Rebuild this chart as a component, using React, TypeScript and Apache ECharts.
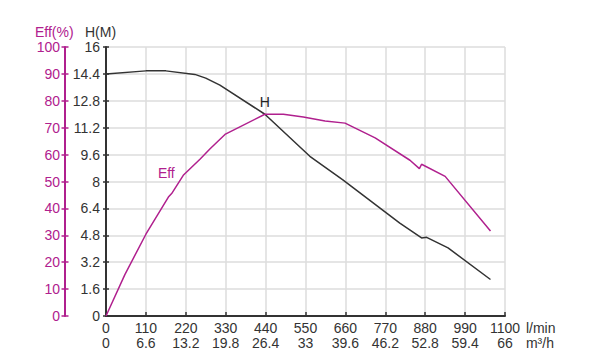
import React, { useEffect, useRef } from "react";
import * as echarts from "echarts";

// Tick labels
const flowTicks = ["0", "110", "220", "330", "440", "550", "660", "770", "880", "990", "1100"];
const m3hTicks = ["0", "6.6", "13.2", "19.8", "26.4", "33", "39.6", "46.2", "52.8", "59.4", "66"];
const hTicks = ["0", "1.6", "3.2", "4.8", "6.4", "8", "9.6", "11.2", "12.8", "14.4", "16"];
const effTicks = ["0", "10", "20", "30", "40", "50", "60", "70", "80", "90", "100"];

// H curve (flow l/min, head m)
const hFlow = [0, 110, 165, 245, 275, 314, 438, 562, 653, 810, 870, 884, 943, 1060];
const hHead = [14.4, 14.58, 14.58, 14.37, 14.15, 13.73, 12.0, 9.5, 8.1, 5.52, 4.64, 4.68, 4.05, 2.17];

// Eff curve (flow l/min, efficiency %)
const effFlow = [0, 52, 110, 172, 181, 213, 259, 287, 328, 438, 489, 544, 604, 659, 742, 838, 864, 870, 935, 1060];
const effVal = [0, 15.4, 30.4, 44.2, 45.5, 52.3, 58.3, 62.2, 67.5, 75.0, 75.0, 74.0, 72.5, 71.7, 66.2, 57.9, 54.8, 56.4, 51.9, 31.6];

// Curve name labels anchored at data points
const hLabelAt = [438, 12.0];
const effLabelAt = [213, 52.3];

const MAGENTA = "#b0208e";
const DARK = "#333333";
const FONT = "'Liberation Sans', Arial, sans-serif";

export default function App() {
  const ref = useRef<HTMLDivElement>(null);

  useEffect(() => {
    if (!ref.current) return;
    const chart = echarts.init(ref.current, undefined, { renderer: "svg" });

    const hData = hFlow.map((f, i) => [f, hHead[i]]);
    const effData = effFlow.map((f, i) => [f, effVal[i]]);

    const yCommon = {
      type: "value",
      position: "left",
      min: 0,
      max: 16,
      interval: 1.6,
    };

    chart.setOption({
      animation: false,
      textStyle: { fontFamily: FONT },
      grid: { left: 106, right: 85, top: 47, bottom: 44, containLabel: false },
      graphic: [
        {
          type: "text",
          left: 35,
          top: 25,
          style: { text: "Eff(%)", fill: MAGENTA, fontSize: 14, fontFamily: FONT },
        },
        {
          type: "text",
          left: 85,
          top: 25,
          style: { text: "H(M)", fill: DARK, fontSize: 14, fontFamily: FONT },
        },
      ],
      xAxis: {
        type: "value",
        min: 0,
        max: 1100,
        interval: 110,
        name: "l/min\nm³/h",
        nameLocation: "end",
        nameGap: 11,
        nameTextStyle: {
          color: DARK,
          fontSize: 14,
          lineHeight: 15,
          align: "left",
          verticalAlign: "top",
          padding: [4, 0, 0, 0],
          fontFamily: FONT,
        },
        axisLine: { show: true, lineStyle: { color: DARK, width: 2 } },
        axisTick: { show: true, inside: true, length: 4, lineStyle: { color: DARK, width: 1.5 } },
        axisLabel: {
          show: true,
          margin: 4,
          color: DARK,
          fontSize: 14,
          lineHeight: 15,
          fontFamily: FONT,
          showMinLabel: true,
          showMaxLabel: true,
          formatter: (v: number) => {
            const i = Math.round(v / 110);
            return `${flowTicks[i]}\n${m3hTicks[i]}`;
          },
        },
        splitLine: { show: true, lineStyle: { color: "#dcdcdc", width: 1.5 } },
      },
      yAxis: [
        {
          ...yCommon,
          offset: 0,
          axisLine: { show: true, onZero: false, lineStyle: { color: DARK, width: 2 } },
          axisTick: { show: true, inside: false, length: 3, lineStyle: { color: DARK, width: 1.5 } },
          axisLabel: {
            show: true,
            margin: 6,
            color: DARK,
            fontSize: 14,
            fontFamily: FONT,
            showMinLabel: true,
            showMaxLabel: true,
            formatter: (v: number) => hTicks[Math.round(v / 1.6)],
          },
          splitLine: { show: true, lineStyle: { color: "#dcdcdc", width: 1.5 } },
        },
        {
          type: "value",
          position: "left",
          min: 0,
          max: 100,
          interval: 10,
          offset: 41,
          axisLine: { show: true, onZero: false, lineStyle: { color: MAGENTA, width: 2 } },
          axisTick: { show: true, inside: false, length: 3.5, lineStyle: { color: MAGENTA, width: 1.5 } },
          axisLabel: {
            show: true,
            margin: 5,
            color: MAGENTA,
            fontSize: 14,
            fontFamily: FONT,
            showMinLabel: true,
            showMaxLabel: true,
            formatter: (v: number) => effTicks[Math.round(v / 10)],
          },
          splitLine: { show: false },
        },
        {
          ...yCommon,
          offset: 0,
          axisLine: { show: false, onZero: false },
          axisTick: { show: true, inside: true, length: 3, lineStyle: { color: DARK, width: 1.5 } },
          axisLabel: { show: false },
          splitLine: { show: false },
        },
        {
          type: "value",
          position: "left",
          min: 0,
          max: 100,
          interval: 10,
          offset: 41,
          axisLine: { show: false, onZero: false },
          axisTick: { show: true, inside: true, length: 3.5, lineStyle: { color: MAGENTA, width: 1.5 } },
          axisLabel: { show: false },
          splitLine: { show: false },
        },
      ],
      series: [
        {
          name: "H",
          type: "line",
          yAxisIndex: 0,
          data: hData,
          showSymbol: false,
          symbol: "none",
          lineStyle: { color: DARK, width: 1.5 },
          itemStyle: { color: DARK },
          z: 3,
          markPoint: {
            symbol: "circle",
            symbolSize: 1,
            itemStyle: { color: "rgba(0,0,0,0)" },
            data: [
              {
                coord: hLabelAt,
                label: {
                  show: true,
                  formatter: "H",
                  position: "top",
                  distance: 5,
                  color: "#222",
                  fontSize: 14,
                  fontFamily: FONT,
                },
              },
            ],
          },
        },
        {
          name: "Eff",
          type: "line",
          yAxisIndex: 1,
          data: effData,
          showSymbol: false,
          symbol: "none",
          lineStyle: { color: MAGENTA, width: 1.5 },
          itemStyle: { color: MAGENTA },
          z: 3,
          markPoint: {
            symbol: "circle",
            symbolSize: 1,
            itemStyle: { color: "rgba(0,0,0,0)" },
            data: [
              {
                coord: effLabelAt,
                label: {
                  show: true,
                  formatter: "Eff",
                  position: "left",
                  distance: 8,
                  offset: [0, -2],
                  color: MAGENTA,
                  fontSize: 14,
                  fontFamily: FONT,
                },
              },
            ],
          },
        },
      ],
    });

    return () => chart.dispose();
  }, []);

  return (
    <div
      ref={ref}
      style={{ position: "fixed", left: 0, top: 0, width: 590, height: 360, background: "#fff" }}
    />
  );
}
